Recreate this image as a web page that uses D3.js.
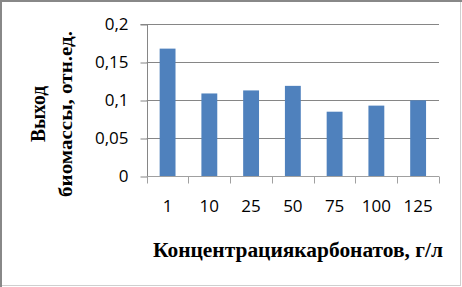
<!DOCTYPE html>
<html>
<head>
<meta charset="utf-8">
<script src="https://cdn.jsdelivr.net/npm/d3@7"></script>
<style>
  html, body { margin: 0; padding: 0; background: #fff; }
  svg { display: block; }
  .tick-label { font-family: "Open Sans", sans-serif; font-size: 17px; fill: #000; }
  .title { font-family: "Liberation Serif", "Times New Roman", serif; font-weight: bold; fill: #000; }
</style>
</head>
<body>
<svg id="chart" width="462" height="287"></svg>
<script>
// concentration of carbonates, g/l
const categories = ['1', '10', '25', '50', '75', '100', '125'];
// biomass yield, rel. units
const yieldValues = [0.168, 0.109, 0.113, 0.119, 0.085, 0.093, 0.100];
const yTicks = [0, 0.05, 0.1, 0.15, 0.2];
const yTickLabels = ['0', '0,05', '0,1', '0,15', '0,2'];

const svg = d3.select('#chart');
const plot = { left: 146.7, right: 439, top: 24.3, bottom: 176.3 };

const x = d3.scaleBand().domain(categories).range([plot.left, plot.right]).paddingInner(0.62).paddingOuter(0.31);
const xOuter = d3.scaleBand().domain(categories).range([plot.left, plot.right]);
const y = d3.scaleLinear().domain([0, 0.2]).range([plot.bottom, plot.top]);

// frame around the picture
svg.append('rect')
  .attr('x', 0.5).attr('y', 0.5).attr('width', 460).attr('height', 285)
  .attr('fill', 'none').attr('stroke', '#cfcfcf');
svg.append('path')
  .attr('d', 'M1,287V1H462')
  .attr('fill', 'none').attr('stroke', '#888').attr('stroke-width', 2);

// gridlines
svg.append('g')
  .selectAll('line')
  .data(yTicks.slice(1))
  .join('line')
  .attr('x1', plot.left).attr('x2', plot.right)
  .attr('y1', (d) => Math.round(y(d)) + 0.5).attr('y2', (d) => Math.round(y(d)) + 0.5)
  .attr('stroke', '#868686');

// y axis
const yAxis = svg.append('g')
  .attr('transform', `translate(${Math.round(plot.left) + 0.5},0)`)
  .call(d3.axisLeft(y).tickValues(yTicks).tickSize(7).tickPadding(12)
    .tickFormat((d, i) => yTickLabels[i]));
yAxis.select('.domain').attr('stroke', '#868686').attr('d', `M-7,${Math.round(plot.top) + 0.5}H0V${Math.round(plot.bottom) + 0.5}`);
yAxis.selectAll('.tick line').attr('stroke', '#868686')
  .attr('transform', (d) => `translate(0,${Math.round(y(d)) + 0.5 - y(d)})`);
yAxis.selectAll('.tick text').attr('class', 'tick-label').attr('font-family', null).attr('font-size', null);

// bars
svg.append('g')
  .selectAll('rect')
  .data(yieldValues)
  .join('rect')
  .attr('x', (d, i) => x(categories[i]))
  .attr('width', x.bandwidth())
  .attr('y', (d) => y(d))
  .attr('height', (d) => y(0) - y(d))
  .attr('fill', '#4f81bd');

// x axis
const xAxis = svg.append('g')
  .attr('transform', `translate(0,${Math.round(plot.bottom) + 0.5})`)
  .call(d3.axisBottom(xOuter).tickSize(0).tickPadding(23));
xAxis.select('.domain').attr('stroke', '#a0a0a0').attr('d', `M${plot.left},0H${plot.right}`);
xAxis.selectAll('.tick text').attr('class', 'tick-label').attr('font-family', null).attr('font-size', null);
xAxis.append('g')
  .selectAll('line')
  .data(d3.range(categories.length + 1))
  .join('line')
  .attr('x1', (i) => Math.round(plot.left + i * xOuter.step()) + 0.5)
  .attr('x2', (i) => Math.round(plot.left + i * xOuter.step()) + 0.5)
  .attr('y1', 0).attr('y2', 7)
  .attr('stroke', '#a0a0a0');

// axis titles
svg.append('text')
  .attr('class', 'title')
  .attr('x', 298).attr('y', 257)
  .attr('text-anchor', 'middle')
  .attr('font-size', 20)
  .attr('textLength', 290)
  .attr('lengthAdjust', 'spacingAndGlyphs')
  .text('Концентрациякарбонатов, г/л');

const yTitle = svg.append('g').attr('transform', 'translate(0,114) rotate(-90)');
yTitle.append('text')
  .attr('class', 'title')
  .attr('x', 0).attr('y', 45)
  .attr('text-anchor', 'middle')
  .attr('font-size', 20)
  .attr('textLength', 56)
  .attr('lengthAdjust', 'spacingAndGlyphs')
  .text('Выход');
yTitle.append('text')
  .attr('class', 'title')
  .attr('x', 0).attr('y', 72)
  .attr('text-anchor', 'middle')
  .attr('font-size', 19)
  .attr('textLength', 166)
  .attr('lengthAdjust', 'spacingAndGlyphs')
  .text('биомассы, отн.ед.');
</script>
</body>
</html>
